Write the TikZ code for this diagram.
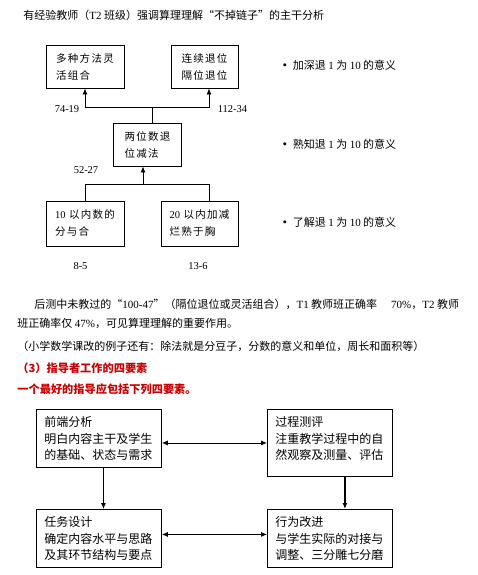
\documentclass[tikz,border=0pt]{standalone}
\usepackage{fontspec}
\setmainfont{Noto Sans CJK SC}
\newfontfamily\lat{Liberation Serif}
\newfontfamily\wide{Noto Sans CJK SC}[LetterSpace=12]
\usetikzlibrary{arrows.meta}
\definecolor{hdred}{RGB}{204,0,0}
\newcommand{\boxlines}[2]{\parbox[t][#1][t]{109pt}{#2}}

\begin{document}
\begin{tikzpicture}[x=1pt,y=-1pt,
    line width=.8pt,
    txt/.style={anchor=west, inner sep=0pt, font=\fontsize{11}{13}\selectfont},
    red/.style={txt, text=hdred, font=\bfseries\fontsize{11.2}{13}\selectfont},
    num/.style={inner sep=0pt, font=\lat\fontsize{10.5}{13}\selectfont},
    small/.style={draw, line width=.9pt, minimum width=#1, minimum height=43pt,
      align=left, inner sep=0pt, font=\wide\fontsize{10.5}{17}\selectfont},
    big/.style={draw, line width=.9pt, anchor=north west, inner xsep=8pt,
      inner ysep=7pt, font=\fontsize{12}{16.7}\selectfont},
    tip/.style={-{Latex[length=6pt,width=5pt]}},
    dbl/.style={{Latex[length=6pt,width=5pt]}-{Latex[length=6pt,width=5pt]}}]
  \fill[white] (0,0) rectangle (478,575);
  \useasboundingbox (0,0) rectangle (478,575);

  % title
  \node[txt] (ttl) at (23,15) {有经验教师（{\lat T2} 班级）强调算理理解“不掉链子”的主干分析};

  % tree of subtraction
  \node[small=78pt] (a) at (85,66.5) {多种方法灵\\活组合};
  \node[small=67pt] (b) at (204.5,66.5) {连续退位\\隔位退位};
  \node[small=68.5pt] (c) at (147.5,144.5) {两位数退\\位减法};
  \node[small=78pt, minimum height=45pt] (d) at (85,223.5) {{\lat 10} 以内数的\\分与合};
  \node[small=77pt, minimum height=45pt] (e) at (199.5,223.5) {{\lat 20} 以内加减\\烂熟于胸};

  \coordinate (up) at (152,107);
  \coordinate (dn) at (143,184);
  \draw (c.north -| up) -- (up);
  \draw[tip] (up) -| (a.south);
  \draw[tip] (up) -| ([xshift=4.5pt]b.south);
  \draw[tip] (dn) -- (c.south -| dn);
  \draw (dn) -| (d.north);
  \draw (dn) -| ([xshift=9.5pt]e.north);

  \node[num] (n1) at (67,109) {74-19};
  \node[num] (n2) at (232.5,109) {112-34};
  \node[num] (n3) at (86,170) {52-27};
  \node[num] (n4) at (80.5,266) {8-5};
  \node[num] (n5) at (198,266) {13-6};

  \node[txt] (r1) at (279,65) {{\bfseries·} 加深退 {\lat 1} 为 {\lat 10} 的意义};
  \node[txt] (r2) at (279,144) {{\bfseries·} 熟知退 {\lat 1} 为 {\lat 10} 的意义};
  \node[txt] (r3) at (279,222) {{\bfseries·} 了解退 {\lat 1} 为 {\lat 10} 的意义};

  % paragraph
  \node[txt] (p1) at (34,304) {后测中未教过的“{\lat 100-47}”（隔位退位或灵活组合），{\lat T1} 教师班正确率\hspace{14pt}{\lat 70\%}，{\lat T2} 教师};
  \node[txt] (p2) at (17,323) {班正确率仅 {\lat 47\%}，可见算理理解的重要作用。};
  \node[txt] (p3) at (17,346) {（小学数学课改的例子还有：除法就是分豆子，分数的意义和单位，周长和面积等）};
  \node[red] (h1) at (17,368) {（3）指导者工作的四要素};
  \node[red] (h2) at (17,389) {一个最好的指导应包括下列四要素。};

  % four elements
  \node[big] (f) at (36,409) {\boxlines{44pt}{前端分析\\明白内容主干及学生\\的基础、状态与需求}};
  \node[big] (g) at (267,409) {\boxlines{53pt}{过程测评\\注重教学过程中的自\\然观察及测量、评估}};
  \node[big] (h) at (36,509) {\boxlines{44pt}{任务设计\\确定内容水平与思路\\及其环节结构与要点}};
  \node[big] (i) at (267,509) {\boxlines{44pt}{行为改进\\与学生实际的对接与\\调整、三分雕七分磨}};

  \coordinate (fh) at ([xshift=4.5pt]f.south);
  \coordinate (gi) at ([xshift=15pt]g.south);
  \draw[dbl] (f.east |- g.west) -- (g.west);
  \draw[dbl] ([yshift=4pt]h.east) -- ([yshift=4pt]i.west);
  \draw[tip] (fh) -- (fh |- h.north);
  \draw[tip, line width=1.5pt] (gi) -- (gi |- i.north);
\end{tikzpicture}
\end{document}
